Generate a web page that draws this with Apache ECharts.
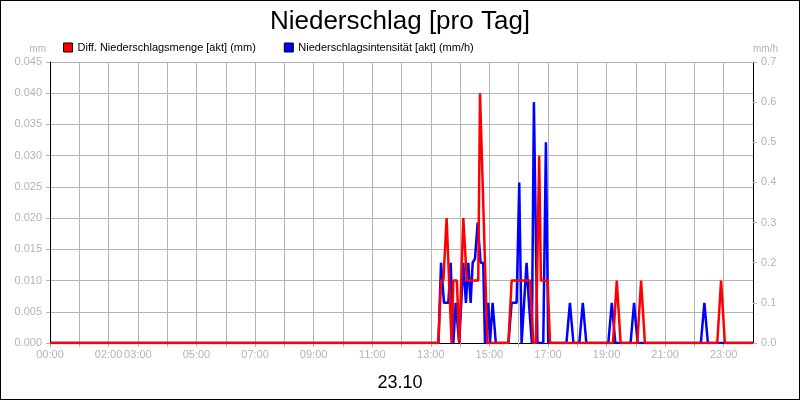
<!DOCTYPE html>
<html><head><meta charset="utf-8">
<script src="https://cdn.jsdelivr.net/npm/echarts@6/dist/echarts.min.js"></script>
<style>html,body{margin:0;padding:0;background:#fff}#c{width:798px;height:398px;border:1px solid #000}</style>
</head><body><div id="c"></div>
<script>
const tickHours = [0,2,3,5,7,9,11,13,15,17,19,21,23];
const redData = [[0,0],[13.26,0],[13.35,0.01],[13.43,0.01],[13.54,0.02],[13.71,0],[13.77,0.01],[13.89,0.01],[13.97,0],[14.11,0.02],[14.23,0.01],[14.62,0.01],[14.68,0.04],[14.74,0.04],[14.93,0],[15.65,0],[15.76,0.01],[16.39,0.01],[16.50,0],[16.59,0],[16.70,0.03],[16.76,0.01],[16.99,0.01],[17.07,0],[19.22,0],[19.35,0.01],[19.48,0],[20.05,0],[20.18,0.01],[20.31,0],[22.78,0],[22.91,0.01],[23.04,0],[24,0]];
const blueData = [[0,0],[13.26,0],[13.35,0.2],[13.45,0.1],[13.6,0.1],[13.68,0.2],[13.77,0],[13.85,0.1],[13.9,0.1],[13.97,0],[14.11,0.2],[14.2,0.1],[14.28,0.2],[14.36,0.1],[14.43,0.2],[14.51,0.21],[14.6,0.3],[14.70,0.2],[14.79,0.2],[14.85,0],[14.96,0.1],[15.02,0],[15.11,0.1],[15.22,0],[15.65,0],[15.76,0.1],[15.93,0.1],[16.02,0.4],[16.1,0],[16.27,0.2],[16.35,0.1],[16.45,0],[16.52,0.6],[16.64,0],[16.84,0],[16.93,0.5],[17.01,0],[17.63,0],[17.75,0.1],[17.87,0],[18.07,0],[18.19,0.1],[18.31,0],[19.06,0],[19.18,0.1],[19.3,0],[19.82,0],[19.94,0.1],[20.06,0],[22.22,0],[22.34,0.1],[22.46,0],[24,0]];
const gray = '#b4b4b4';
const font = 'Liberation Sans';
const chart = echarts.init(document.getElementById('c'));
chart.setOption({
  animation:false,
  textStyle:{fontFamily:font},
  title:[{text:'Niederschlag [pro Tag]',left:'center',top:3,textStyle:{fontSize:26,fontWeight:'normal',color:'#000',fontFamily:font}},
         {text:'23.10',left:'center',top:368,textStyle:{fontSize:18,fontWeight:'normal',color:'#000',fontFamily:font}}],
  legend:{left:57,top:36,itemWidth:9,itemHeight:9,itemGap:28,icon:'rect',textStyle:{fontSize:11,color:'#000',fontFamily:font},
    data:[{name:'Diff. Niederschlagsmenge [akt] (mm)',itemStyle:{borderColor:'#000',borderWidth:1}},{name:'Niederschlagsintensität [akt] (mm/h)',itemStyle:{borderColor:'#000',borderWidth:1}}]},
  grid:{left:49,right:46,top:61,bottom:56},
  xAxis:{type:'value',min:0,max:24,interval:1,
    axisLine:{lineStyle:{color:'#000'}},axisTick:{show:true,length:4,lineStyle:{color:gray}},
    splitLine:{show:true,lineStyle:{color:gray}},
    axisLabel:{color:gray,fontSize:11,fontFamily:font,margin:6,showMaxLabel:false,
      formatter:v=>tickHours.includes(v)?String(v).padStart(2,'0')+':00':''}},
  yAxis:[{type:'value',min:0,max:0.045,interval:0.005,name:'mm',nameGap:8,nameTextStyle:{color:gray,fontSize:10,align:'right',padding:[0,4,0,0]},
    axisLine:{show:true,lineStyle:{color:'#000'}},axisTick:{show:true,length:4,lineStyle:{color:gray}},
    splitLine:{lineStyle:{color:gray}},axisLabel:{color:gray,fontSize:11,fontFamily:font,formatter:v=>v.toFixed(3)}},
   {type:'value',min:0,max:0.7,interval:0.1,name:'mm/h',nameGap:8,nameTextStyle:{color:gray,fontSize:10,align:'left'},
    axisLine:{show:true,lineStyle:{color:'#000'}},axisTick:{show:true,length:4,lineStyle:{color:gray}},
    splitLine:{show:false},axisLabel:{color:gray,fontSize:11,fontFamily:font,formatter:v=>v.toFixed(1)}}],
  series:[
    {name:'Niederschlagsintensität [akt] (mm/h)',type:'line',yAxisIndex:1,data:blueData,showSymbol:false,color:'#0000ff',lineStyle:{width:2.5,color:'#0000ff'}},
    {name:'Diff. Niederschlagsmenge [akt] (mm)',type:'line',yAxisIndex:0,data:redData,showSymbol:false,color:'#ff0000',lineStyle:{width:2.5,color:'#ff0000'}}
  ]
});
</script></body></html>
